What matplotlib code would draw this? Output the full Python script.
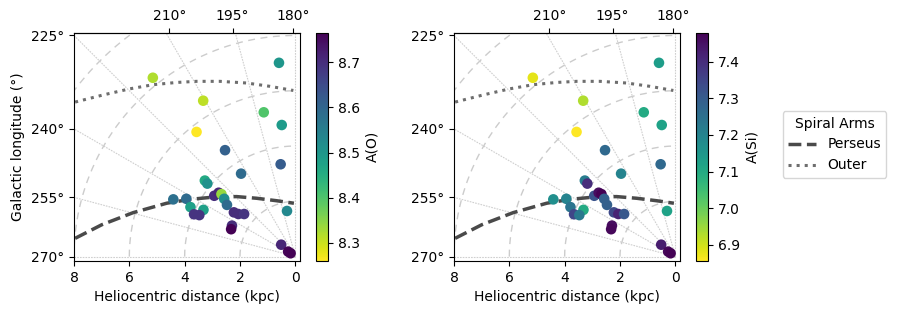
import numpy as np
import matplotlib
matplotlib.use("Agg")
import matplotlib.pyplot as plt

# ---- data ----
star_x = [0.59, 5.15, 3.33, 1.14, 0.49, 3.57, 2.54, 0.53, 1.96, 3.27, 3.18, 4.41, 3.94,
          3.79, 3.32, 3.66, 3.47, 2.93, 2.77, 2.67, 2.57, 2.47, 2.22, 2.06, 1.85, 2.29,
          2.32, 0.30, 0.51, 0.26, 0.17]
star_y = [7.01, 6.47, 5.64, 5.22, 4.76, 4.51, 3.85, 3.34, 3.00, 2.75, 2.64, 2.07, 2.09,
          1.79, 1.69, 1.53, 1.50, 2.20, 2.31, 2.26, 2.09, 1.87, 1.60, 1.54, 1.54, 1.12,
          0.99, 1.65, 0.43, 0.18, 0.12]
abund_O = [8.50, 8.32, 8.31, 8.40, 8.49, 8.26, 8.61, 8.62, 8.59, 8.46, 8.51, 8.58, 8.59,
           8.48, 8.48, 8.69, 8.69, 8.70, 8.71, 8.34, 8.52, 8.59, 8.70, 8.70, 8.69, 8.70,
           8.765, 8.53, 8.71, 8.76, 8.765]
abund_Si = [7.135, 6.88, 6.93, 7.10, 7.12, 6.855, 7.27, 7.27, 7.20, 7.22, 7.40, 7.17, 7.20,
            7.24, 7.10, 7.35, 7.23, 7.32, 7.46, 7.48, 7.29, 7.29, 7.34, 7.42, 7.31, 7.46,
            7.47, 7.12, 7.43, 7.47, 7.48]

perseus_x = [7.96, 7.00, 5.86, 4.65, 3.81, 2.97, 2.12, 1.40, 0.67, 0.05]
perseus_y = [0.66, 1.15, 1.59, 1.93, 2.07, 2.15, 2.17, 2.11, 2.02, 1.93]
outer_x = [7.96, 6.94, 5.98, 5.13, 4.29, 3.57, 2.72, 1.76, 0.92, 0.07]
outer_y = [5.59, 5.85, 6.07, 6.22, 6.30, 6.34, 6.34, 6.28, 6.16, 6.01]

dist_ticks = [8, 6, 4, 2, 0]
left_lon = [225, 240, 255, 270]
top_lon = [210, 195, 180]
top_tick_pos = [4.55, 2.27, 0.08]
grid_radii = [2, 4, 6, 8, 10]
grid_lon = [180, 195, 210, 225, 240, 255, 270]

W, H = 897, 313
fig = plt.figure(figsize=(W / 100, H / 100), dpi=100)

bottom = 1 - 261 / H
height = 228.3 / H
ax1 = fig.add_axes([74 / W, bottom, 226 / W, height])
cax1 = fig.add_axes([316 / W, bottom, 12 / W, height])
ax2 = fig.add_axes([454 / W, bottom, 226 / W, height])
cax2 = fig.add_axes([696 / W, bottom, 12 / W, height])

th = np.linspace(0, np.pi / 2, 300)


def draw_panel(ax, vals, cax, clabel):
    for r in grid_radii:
        ax.plot(r * np.cos(th), r * np.sin(th), ls=(0, (5, 4)), color='#cccccc',
                lw=1.0, zorder=0)
    for l in grid_lon:
        a = np.radians(270 - l)
        ax.plot([0, 13 * np.cos(a)], [0, 13 * np.sin(a)], ls=(0, (1.5, 1)),
                color='#cfcfcf', lw=0.8, zorder=0)
    lp, = ax.plot(perseus_x, perseus_y, ls='--', color='#4a4a4a', lw=2.5,
                  zorder=2, label='Perseus')
    lo, = ax.plot(outer_x, outer_y, ls=':', color='#6e6e6e', lw=2.2,
                  zorder=2, label='Outer')
    sc = ax.scatter(star_x, star_y, c=vals, cmap='viridis_r', s=58,
                    edgecolors='none', zorder=3)
    ax.set_xlim(8.0, -0.17)
    ax.set_ylim(-0.16, 8.1)
    ax.set_xticks(dist_ticks)
    ax.set_xticklabels([str(d) for d in dist_ticks])
    ypos = [8 * np.tan(np.radians(270 - l)) for l in left_lon]
    ax.set_yticks(ypos)
    ax.set_yticklabels([f'{l}°' for l in left_lon])
    sec = ax.secondary_xaxis('top')
    sec.set_xticks(top_tick_pos)
    sec.set_xticklabels([f'{l}°' for l in top_lon])
    ax.tick_params(labelsize=10)
    sec.tick_params(labelsize=10)
    ax.set_xlabel('Heliocentric distance (kpc)', fontsize=10)
    cb = fig.colorbar(sc, cax=cax)
    cb.set_label(clabel, fontsize=10)
    cb.ax.tick_params(labelsize=10)
    return lp, lo


draw_panel(ax1, abund_O, cax1, 'A(O)')
lp, lo = draw_panel(ax2, abund_Si, cax2, 'A(Si)')
ax1.set_ylabel('Galactic longitude (°)', fontsize=10)

fig.legend(handles=[lp, lo], title='Spiral Arms', loc='center',
           bbox_to_anchor=(834.5 / W, 1 - 144.5 / H), fontsize=10,
           title_fontsize=10)

fig.savefig('out.png', dpi=100)
